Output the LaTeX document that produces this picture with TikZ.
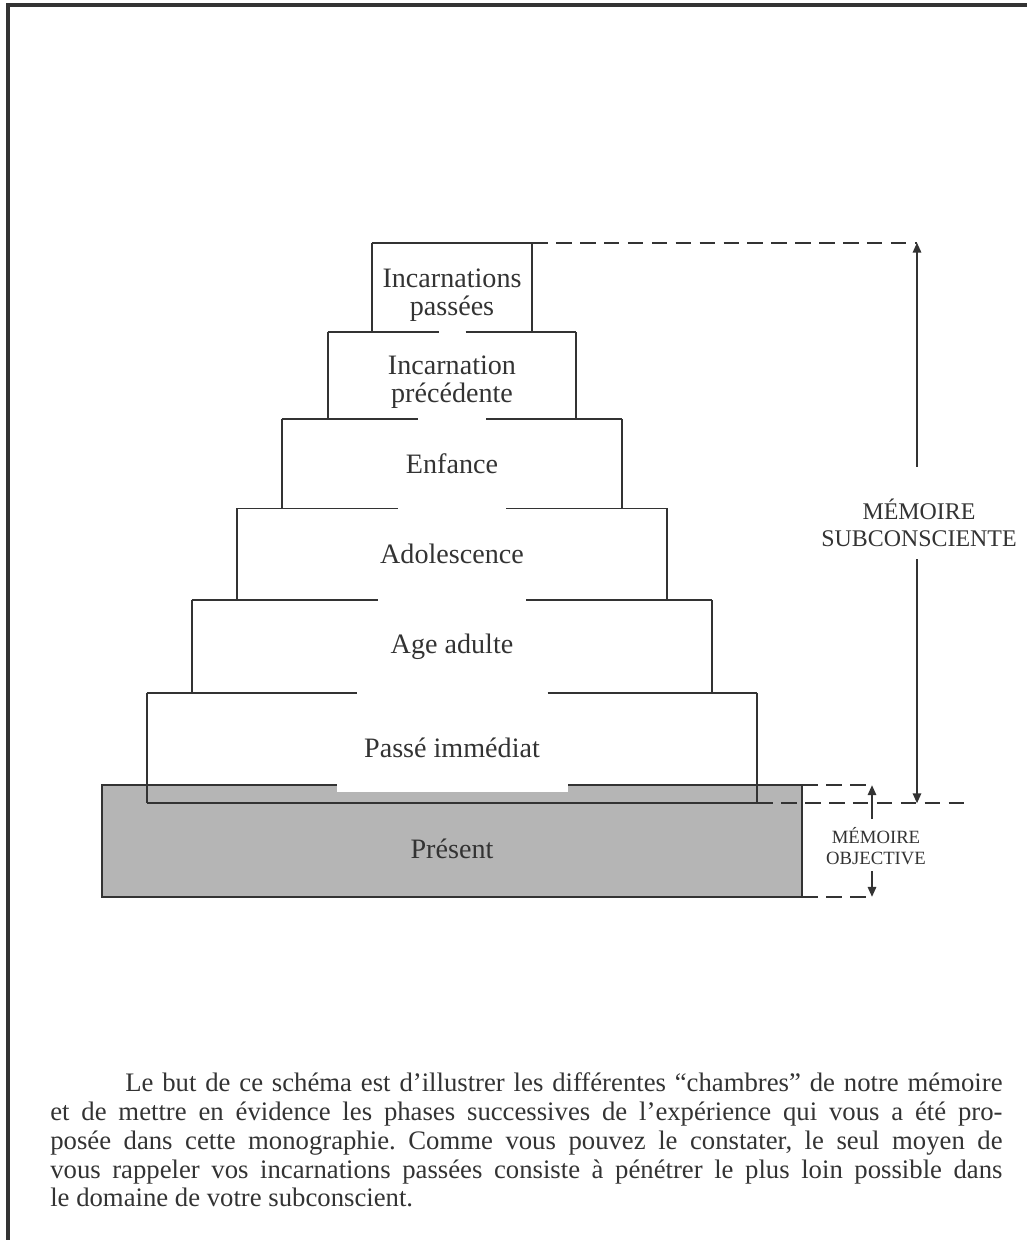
\documentclass[tikz,border=0pt]{standalone}
\usepackage{fontspec}
\setmainfont{Liberation Serif}
\usetikzlibrary{arrows.meta, positioning, calc}

\definecolor{ink}{gray}{0.2}
\definecolor{shade}{gray}{0.71}

\begin{document}
\begin{tikzpicture}[
    x=0.025cm, y=-0.025cm, % one unit = one pixel of the page scan
    % Styles
    level/.style={rectangle, inner sep=0pt, align=center, text=ink, font=\fontsize{20}{20}\selectfont},
    edge/.style={draw=ink, line width=1.3pt},
    guide/.style={draw=ink, line width=1.3pt, dash pattern=on 11pt off 6pt},
    arrow/.style={-{Triangle[length=7pt, width=6pt]}, draw=ink, line width=1.1pt},
    memlabel/.style={align=center, text=ink, inner sep=0pt}
]
\useasboundingbox (0,0) rectangle (1027,1240);

% --- Page frame ---
\coordinate (frame_tr) at (1027,5);
\coordinate (frame_bl) at (8,1240);
\draw[ink, line width=2.2pt] (frame_bl) |- (frame_tr);

% --- Memory levels (stacked from the top) ---
\node[level, minimum width=4cm, minimum height=2.225cm] (passees) at (452,287.5) {\rule{0pt}{0.85cm}Incarnations\\passées};
\node[level, minimum width=6.2cm, minimum height=2.15cm, below=0pt of passees] (precedente) {\rule{0pt}{0.8cm}Incarnation\\précédente};
\node[level, minimum width=8.5cm, minimum height=2.225cm, below=0pt of precedente] (enfance) {Enfance};
\node[level, minimum width=10.75cm, minimum height=2.275cm, below=0pt of enfance] (adolescence) {Adolescence};
\node[level, minimum width=13cm, minimum height=2.3cm, below=0pt of adolescence] (adulte) {Age adulte};
\node[level, minimum width=15.25cm, minimum height=2.75cm, below=0pt of adulte] (immediat) {Passé immédiat};

% present overlaps the bottom of the immediate past
\node[level, fill=shade, minimum width=17.5cm, minimum height=2.775cm, text height=0.9cm, below=-0.45cm of immediat] (present) {Présent};
\fill[white] ($(present.north)+(-115.5,0)$) rectangle ($(present.north)+(115.5,7)$); % notch

% --- Outlines ---
\foreach \lvl in {passees, precedente, enfance, adolescence, adulte, immediat}
    \draw[edge] (\lvl.north west) -- (\lvl.south west) (\lvl.north east) -- (\lvl.south east);
\draw[edge] (passees.north west) -- (passees.north east);
\foreach \lvl/\gap in {precedente/27, enfance/68, adolescence/108, adulte/148, immediat/191}
    \draw[edge] (\lvl.north west) -- ($(\lvl.north)+(-\gap/2,0)$) ($(\lvl.north)+(\gap/2,0)$) -- (\lvl.north east);
\draw[edge] (immediat.south west) -- (immediat.south east);
\draw[edge] ($(present.north)+(-115.5,0)$) -- (present.north west) -- (present.south west)
    -- (present.south east) -- (present.north east) -- ($(present.north)+(115.5,0)$);

% --- Memory labels and arrows ---
\coordinate (sub_x) at (917,0);
\coordinate (obj_x) at (872,0);
\coordinate (sub_top) at (passees.north east -| sub_x);
\coordinate (sub_bot) at (immediat.south east -| sub_x);
\coordinate (sub_end) at ($(sub_bot)+(50,0)$);
\coordinate (obj_top) at (present.north east -| obj_x);
\coordinate (obj_bot) at (present.south east -| obj_x);

\node[memlabel, font=\fontsize{17}{19.5}\selectfont] (subconsciente) at (919,523) {MÉMOIRE\\SUBCONSCIENTE};
\draw[arrow, shorten <=0.8cm] (subconsciente.north -| sub_x) -- (sub_top);
\draw[arrow, shorten <=0.3cm] (subconsciente.south -| sub_x) -- (sub_bot);

\node[memlabel, font=\fontsize{13.3}{15}\selectfont] (objective) at (876,846) {MÉMOIRE\\OBJECTIVE};
\draw[arrow, shorten <=0.2cm] (objective.north -| obj_x) -- (obj_top);
\draw[arrow, shorten <=0.15cm] (objective.south -| obj_x) -- (obj_bot);

% dashed level marks
\draw[guide] (passees.north east) -- (sub_top);
\draw[guide] (immediat.south east) -- (sub_end);
\draw[guide] (present.north east) -- (obj_top);
\draw[guide] (present.south east) -- (obj_bot);

% --- Caption ---
\node[anchor=north west, text width=23.8cm, align=justify, inner sep=0pt, text=ink, font=\fontsize{19}{20.6}\selectfont\frenchspacing] (caption) at (50,1072)
    {\hspace*{1.875cm}Le but de ce schéma est d'illustrer les différentes ``chambres'' de notre mémoire\linebreak
    et de mettre en évidence les phases successives de l'expérience qui vous a été pro-\linebreak
    posée dans cette monographie. Comme vous pouvez le constater, le seul moyen de\linebreak
    vous rappeler vos incarnations passées consiste à pénétrer le plus loin possible dans\linebreak
    le domaine de votre subconscient.};

\end{tikzpicture}
\end{document}
